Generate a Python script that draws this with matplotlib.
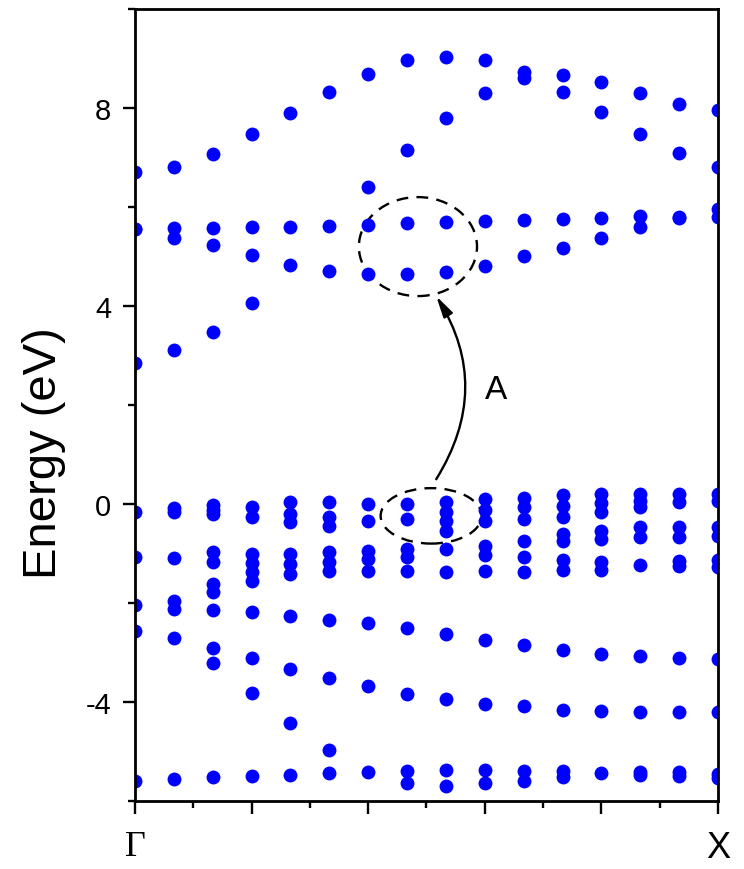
import matplotlib.pyplot as plt
from matplotlib.patches import Ellipse
from matplotlib.ticker import MultipleLocator

plt.rcParams['axes.unicode_minus'] = False
plt.rcParams['font.family'] = ['Liberation Sans', 'DejaVu Sans']

# energies (eV) read at each of the 16 k-points from Gamma to X
conduction = [
    [6.71, 5.56, 5.56, 2.84],
    [6.80, 5.58, 5.37, 3.11],
    [7.08, 5.58, 5.24, 3.47],
    [7.47, 5.59, 5.04, 4.07],
    [7.90, 5.60, 4.83],
    [8.32, 5.62, 4.71],
    [8.69, 6.40, 5.64, 4.65],
    [8.96, 7.16, 5.68, 4.65],
    [9.04, 7.80, 5.70, 4.69],
    [8.96, 8.30, 5.72, 4.81],
    [8.73, 8.60, 5.73, 5.00],
    [8.67, 8.33, 5.75, 5.18],
    [8.53, 7.91, 5.78, 5.37],
    [8.30, 7.47, 5.81, 5.59],
    [8.09, 7.09, 5.80, 5.78],
    [7.95, 6.81, 5.96, 5.79],
]

valence_top = [
    [-0.17, -1.08],
    [-0.08, -0.17, -1.09],
    [-0.03, -0.12, -0.21, -0.98, -1.18],
    [-0.06, -0.27, -1.02, -1.20, -1.38],
    [0.03, -0.20, -0.37, -1.01, -1.21, -1.41],
    [0.03, -0.27, -0.44, -0.98, -1.18, -1.36],
    [0.00, -0.34, -0.94, -1.11, -1.36],
    [0.00, -0.30, -0.91, -1.08, -1.36],
    [0.03, -0.17, -0.34, -0.54, -0.90, -1.38],
    [0.10, -0.13, -0.34, -0.84, -1.04, -1.36],
    [0.12, -0.07, -0.30, -0.75, -1.08, -1.37],
    [0.18, -0.05, -0.26, -0.60, -0.75, -1.14, -1.33],
    [0.20, 0.02, -0.17, -0.54, -0.71, -1.18, -1.33],
    [0.20, 0.07, -0.07, -0.47, -0.67, -1.23],
    [0.20, 0.05, -0.47, -0.67, -1.15, -1.25],
    [0.20, 0.07, -0.47, -0.64, -1.14, -1.28],
]

valence_low = [
    [-2.04, -2.57, -5.59],
    [-1.95, -2.13, -2.71, -5.56],
    [-1.62, -1.78, -2.14, -2.90, -3.21, -5.52],
    [-1.56, -2.19, -3.12, -3.82, -5.50],
    [-2.26, -3.33, -4.42, -5.47],
    [-2.34, -3.52, -4.97, -5.43],
    [-2.41, -3.68, -5.41],
    [-2.51, -3.84, -5.39, -5.64],
    [-2.63, -3.95, -5.37, -5.69],
    [-2.74, -4.04, -5.37, -5.64],
    [-2.84, -4.09, -5.39, -5.59],
    [-2.95, -4.16, -5.39, -5.52],
    [-3.03, -4.18, -5.44],
    [-3.08, -4.21, -5.42, -5.47],
    [-3.12, -4.21, -5.42, -5.50],
    [-3.13, -4.21, -5.45, -5.54],
]

fig = plt.figure(figsize=(7.44, 8.70), dpi=100)
ax = fig.add_axes([0.1815, 0.0782, 0.7835, 0.9103])

for group in (conduction, valence_top, valence_low):
    xs, ys = [], []
    for k, energies in enumerate(group):
        xs += [k] * len(energies)
        ys += energies
    ax.plot(xs, ys, 'o', color='#0000ff', markersize=10, markeredgewidth=0)

# transition A between the two circled regions
ax.add_patch(Ellipse((7.28, 5.2), 3.04, 2.0, fill=False, ls=(0, (5, 3.5)), lw=1.7, color='k'))
ax.add_patch(Ellipse((7.62, -0.24), 2.6, 1.12, fill=False, ls=(0, (5, 3.5)), lw=1.7, color='k'))
ax.annotate('', xy=(7.75, 4.2), xytext=(7.75, 0.5),
            arrowprops=dict(arrowstyle='-|>,head_length=0.9,head_width=0.22',
                            connectionstyle='arc3,rad=0.31', lw=1.7, color='k',
                            mutation_scale=14, shrinkA=0, shrinkB=0))
ax.text(9.3, 2.32, 'A', fontsize=24, ha='center', va='center')

ax.set_xlim(0, 15)
ax.set_ylim(-6, 10)
ax.set_xticks([0, 3, 6, 9, 12, 15])
ax.set_xticklabels(['Γ', '', '', '', '', 'X'])
ax.xaxis.set_minor_locator(MultipleLocator(1.5))
ax.yaxis.set_major_locator(MultipleLocator(4))
ax.yaxis.set_minor_locator(MultipleLocator(2))
ax.get_xticklabels()[0].set_family('Liberation Serif')

ax.tick_params(which='major', direction='out', length=9, width=1.7)
ax.tick_params(which='minor', direction='out', length=5, width=1.7)
ax.tick_params(axis='y', labelsize=21, pad=8)
ax.tick_params(axis='x', labelsize=26, pad=12)
for s in ax.spines.values():
    s.set_linewidth(2)

ax.set_ylabel('Energy (eV)', fontsize=34)
ax.yaxis.set_label_coords(-0.118, 0.44)

fig.savefig('out.png', dpi=100)
